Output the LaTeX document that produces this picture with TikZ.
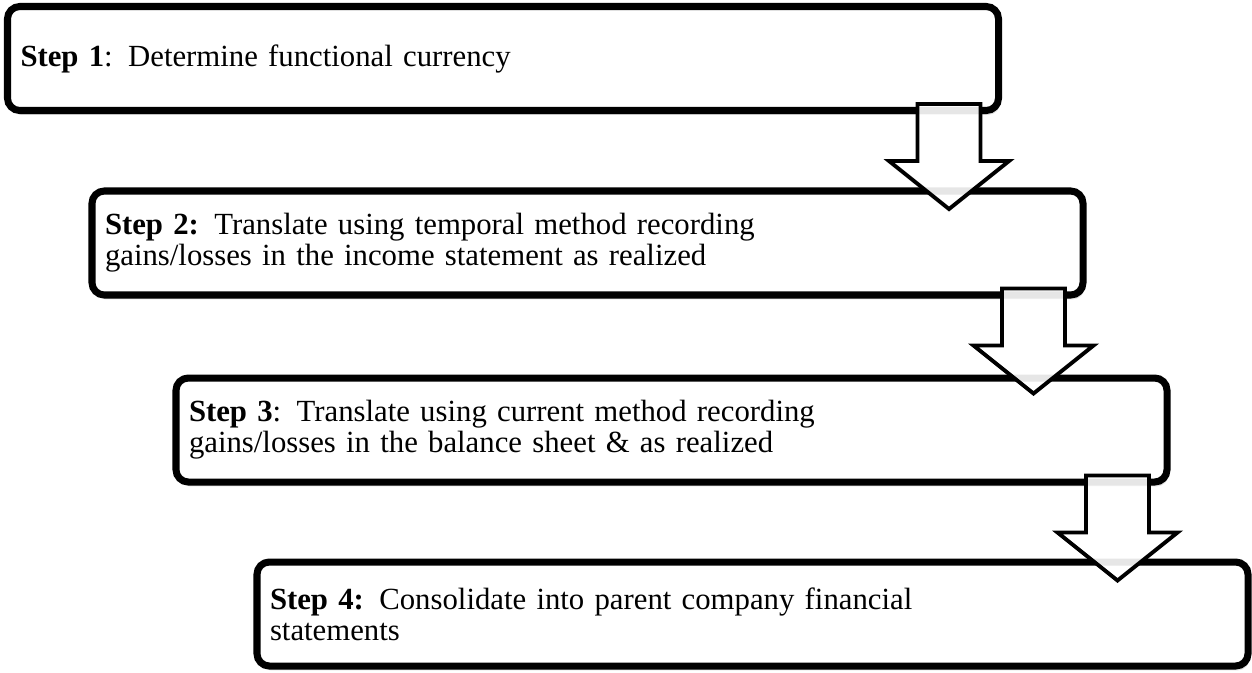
\documentclass[tikz,border=0pt]{standalone}
\usepackage{fontspec}
\setmainfont{Liberation Serif}
\usetikzlibrary{calc,shadows}

% block arrow hanging below the right end of a step box
\newcommand{\stepArrow}[1]{%
  \draw[blockarr] ($(#1.south east)+(-1.69,0.2)$) -- ++(1.26,0) -- ++(0,-1.14)
    -- ++(0.57,0) -- ++(-1.2,-0.96) -- ++(-1.2,0.96) -- ++(0.57,0) -- cycle;}

\begin{document}
\begin{tikzpicture}[
    stepbox/.style={rectangle, rounded corners=7pt, draw=black, line width=4pt,
      fill=white, minimum width=19.82cm, minimum height=2.08cm,
      text width=19.3cm, inner xsep=0.26cm, align=left,
      font=\fontsize{17.5}{17.5}\selectfont,
      drop shadow={opacity=0.25, shadow xshift=1pt, shadow yshift=-2.5pt}},
    blockarr/.style={line width=2.2pt, draw=black, line join=miter,
      fill=white, fill opacity=0.9}
  ]
    \useasboundingbox (0,0) rectangle (25.04,-13.44);

    % ── The four steps ───────────────────────────────────────
    \node[stepbox] (step1) at (10.06,-1.17)
      {\textbf{Step 1}: Determine functional currency};
    \node[stepbox] (step2) at (11.75,-4.86)
      {\textbf{Step 2:} Translate using temporal method recording\\
       gains/losses in the income statement as realized};
    \node[stepbox] (step3) at (13.43,-8.60)
      {\textbf{Step 3}: Translate using current method recording\\
       gains/losses in the balance sheet \& as realized};
    \node[stepbox] (step4) at (15.05,-12.28)
      {\textbf{Step 4:} Consolidate into parent company financial\\
       statements};

    % ── Block arrows between steps ───────────────────────────
    \stepArrow{step1}
    \stepArrow{step2}
    \stepArrow{step3}
\end{tikzpicture}
\end{document}
